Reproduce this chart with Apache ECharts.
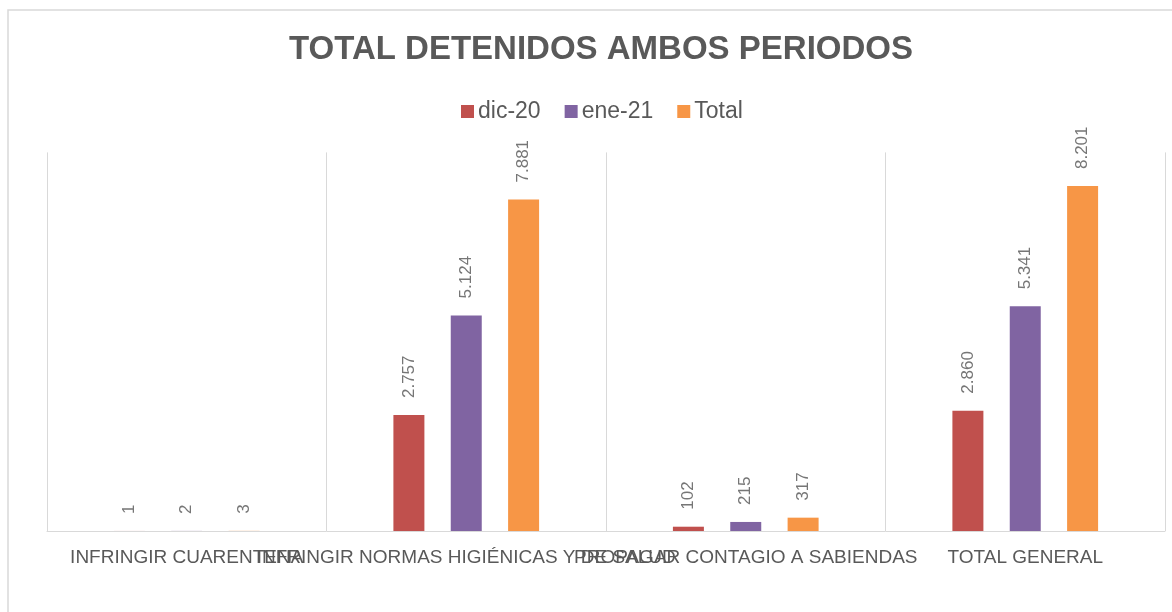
<!DOCTYPE html>
<html>
<head>
<meta charset="utf-8">
<script src="https://cdn.jsdelivr.net/npm/echarts@6/dist/echarts.min.js"></script>
<style>
html,body{margin:0;padding:0;background:#fff;}
#chart{width:1172px;height:612px;}
</style>
</head>
<body>
<div id="chart"></div>
<script>
const titleText = 'TOTAL DETENIDOS AMBOS PERIODOS';
const categories = ['INFRINGIR CUARENTENA', 'INFRINGIR NORMAS HIGIÉNICAS Y DE SALUD', 'PROPAGAR CONTAGIO A SABIENDAS', 'TOTAL GENERAL'];
const seriesNames = ['dic-20', 'ene-21', 'Total'];
const dic20 = [1, 2757, 102, 2860];
const ene21 = [2, 5124, 215, 5341];
const total = [3, 7881, 317, 8201];
const colors = ['#C0504D', '#8064A2', '#F79646'];

function fmt(v) {
  return String(v).replace(/\B(?=(\d{3})+(?!\d))/g, '.');
}

const chart = echarts.init(document.getElementById('chart'), null, {renderer: 'canvas'});
const dataSets = [dic20, ene21, total];
const series = dataSets.map((d, i) => ({
  name: seriesNames[i],
  type: 'bar',
  data: d,
  barWidth: 31,
  barGap: '85%',
  itemStyle: {color: colors[i]},
  label: {
    show: true,
    position: 'top',
    rotate: 90,
    align: 'left',
    verticalAlign: 'middle',
    distance: 17,
    color: '#767676',
    fontSize: 17,
    fontFamily: 'Liberation Sans',
    formatter: p => fmt(p.value)
  }
}));

chart.setOption({
  animation: false,
  backgroundColor: '#fff',
  color: colors,
  graphic: [{
    type: 'rect',
    shape: {x: 8, y: 10, width: 1300, height: 800},
    style: {fill: 'none', stroke: '#d9d9d9', lineWidth: 1.5},
    silent: true
  }],
  title: {
    text: titleText,
    left: 284,
    top: 28,
    textStyle: {
      fontFamily: 'Liberation Sans',
      fontWeight: 'bold',
      fontSize: 33,
      color: '#595959'
    }
  },
  legend: {
    data: seriesNames,
    top: 95,
    left: 456,
    itemWidth: 13,
    itemHeight: 13,
    itemGap: 24,
    icon: 'rect',
    textStyle: {
      fontFamily: 'Liberation Sans',
      fontSize: 23,
      color: '#595959',
      padding: [0, 0, 0, -1]
    }
  },
  grid: {
    left: 47,
    right: 7,
    top: 152.4,
    bottom: 81,
    containLabel: false
  },
  xAxis: {
    type: 'category',
    data: categories,
    axisLine: {lineStyle: {color: '#d9d9d9', width: 1}},
    axisTick: {show: false},
    splitLine: {show: true, interval: 0, lineStyle: {color: '#d9d9d9', width: 1}},
    axisLabel: {
      interval: 0,
      margin: 17,
      fontFamily: 'Liberation Sans',
      fontSize: 19,
      color: '#595959'
    }
  },
  yAxis: {
    type: 'value',
    min: 0,
    max: 9000,
    show: false,
    splitLine: {show: false}
  },
  series: series
});
</script>
</body>
</html>
